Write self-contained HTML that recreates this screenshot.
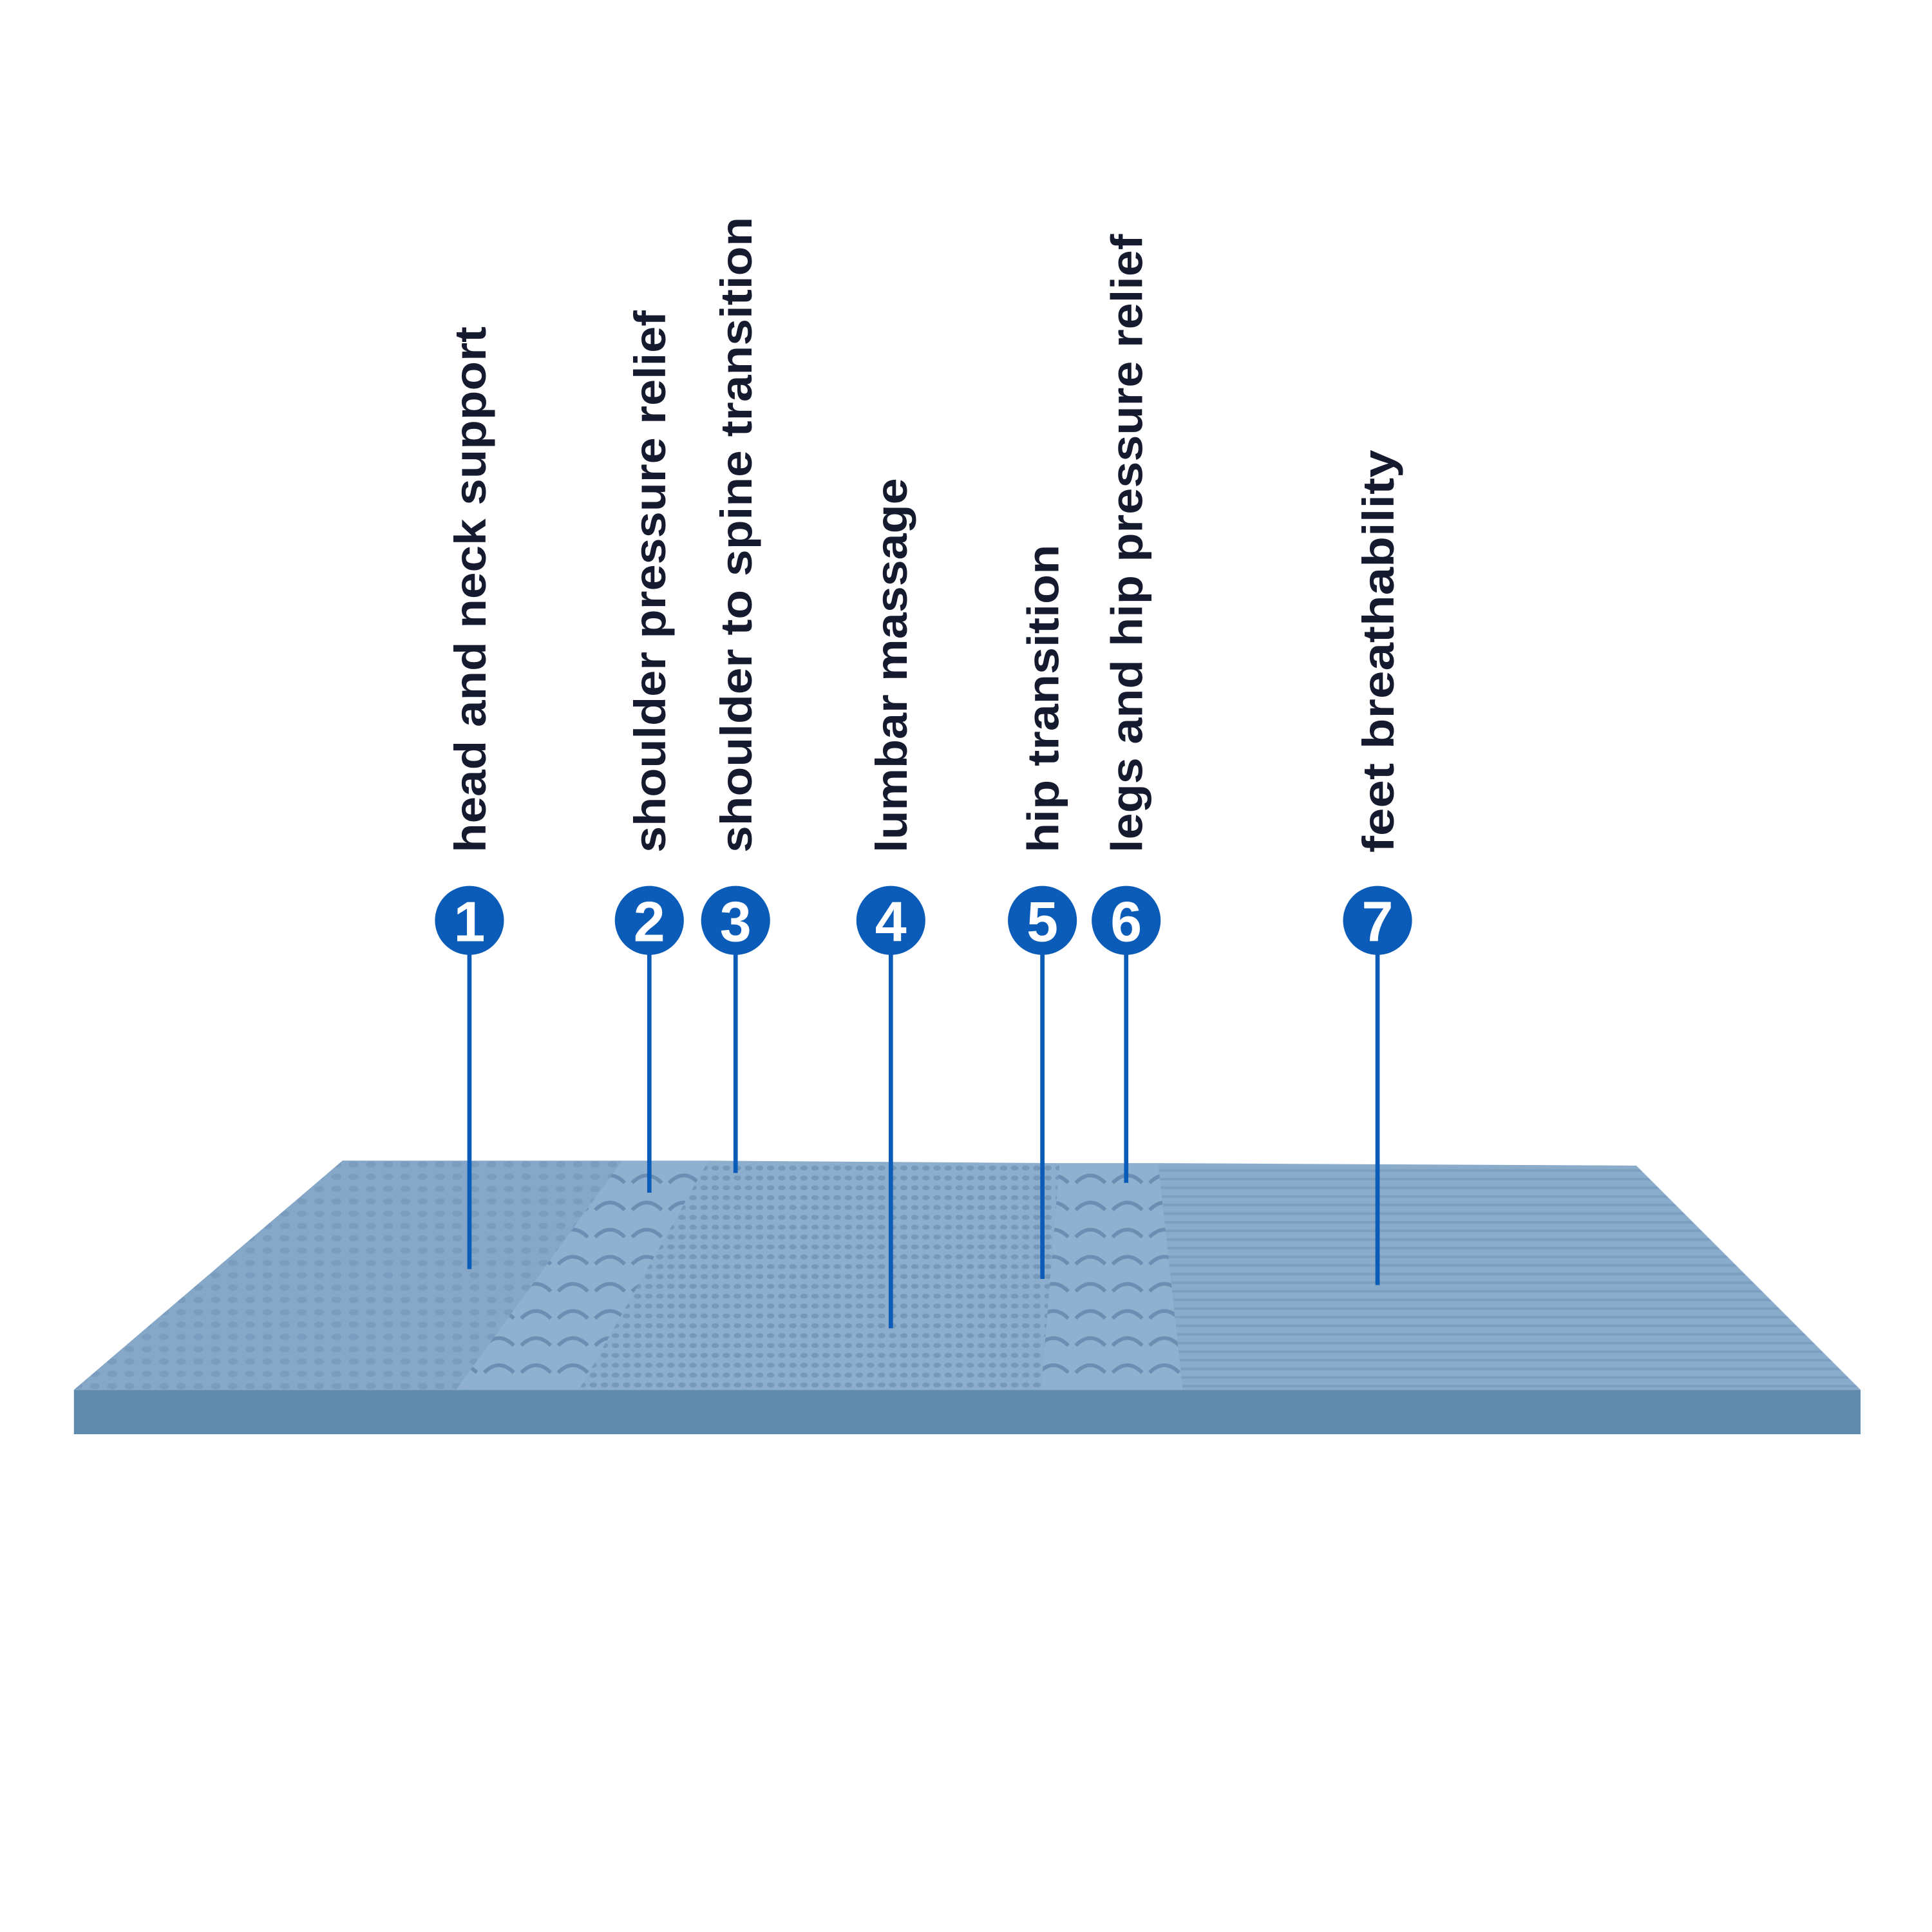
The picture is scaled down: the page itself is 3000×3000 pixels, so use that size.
<!DOCTYPE html>
<html><head><meta charset="utf-8"><style>html,body{margin:0;padding:0;background:#fff}svg{display:block}</style></head>
<body>
<svg width="3000" height="3000" viewBox="0 0 1568 1568" xmlns="http://www.w3.org/2000/svg">
<defs>
<pattern id="dots" width="14" height="10" patternUnits="userSpaceOnUse"><rect width="14" height="10" fill="#86a8c8"/><ellipse cx="7" cy="5" rx="4" ry="2.5" fill="#7a9dbf"/></pattern>
<pattern id="dense" width="9" height="8" patternUnits="userSpaceOnUse"><rect width="9" height="8" fill="#8cadcc"/><ellipse cx="4.5" cy="4" rx="3" ry="2" fill="#7598bb"/></pattern>
<pattern id="lines" width="1568" height="7" patternUnits="userSpaceOnUse"><rect width="1568" height="7" fill="#8aabca"/><rect y="4" width="1568" height="2" fill="#7c9fc0"/></pattern>
<pattern id="big" width="30" height="22" patternUnits="userSpaceOnUse"><rect width="30" height="22" fill="#8fb0cf"/><path d="M3 14 Q15 2 27 14" stroke="#6a8fb3" stroke-width="3" fill="none"/></pattern>
</defs>
<rect x="60" y="1128" width="1450" height="36" fill="#5f8aab"/>
<polygon points="278,942 1328,946 1510,1128 60,1128" fill="#86a8c8"/>
<polygon points="278,942 505,942 380,1128 60,1128" fill="url(#dots)"/>
<polygon points="505,942 575,942 470,1128 370,1128" fill="url(#big)"/>
<polygon points="575,942 860,944 845,1128 470,1128" fill="url(#dense)"/>
<polygon points="860,944 940,944 960,1128 845,1128" fill="url(#big)"/>
<polygon points="940,944 1328,946 1510,1128 960,1128" fill="url(#lines)"/>
<g fill="#0b5cb8" stroke="#0b5cb8">
<line x1="381" y1="747" x2="381" y2="1030" stroke-width="3.5"/>
<line x1="527" y1="747" x2="527" y2="968" stroke-width="3.5"/>
<line x1="597" y1="747" x2="597" y2="952" stroke-width="3.5"/>
<line x1="723" y1="747" x2="723" y2="1078" stroke-width="3.5"/>
<line x1="846" y1="747" x2="846" y2="1038" stroke-width="3.5"/>
<line x1="914" y1="747" x2="914" y2="960" stroke-width="3.5"/>
<line x1="1118" y1="747" x2="1118" y2="1043" stroke-width="3.5"/>
<circle cx="381" cy="747" r="28" stroke="none"/>
<circle cx="527" cy="747" r="28" stroke="none"/>
<circle cx="597" cy="747" r="28" stroke="none"/>
<circle cx="723" cy="747" r="28" stroke="none"/>
<circle cx="846" cy="747" r="28" stroke="none"/>
<circle cx="914" cy="747" r="28" stroke="none"/>
<circle cx="1118" cy="747" r="28" stroke="none"/>
</g>
<g fill="#fff" font-family="Liberation Sans, sans-serif" font-weight="bold" font-size="46" text-anchor="middle">
<text x="381" y="764">1</text><text x="527" y="764">2</text><text x="597" y="764">3</text><text x="723" y="764">4</text><text x="846" y="764">5</text><text x="914" y="764">6</text><text x="1118" y="764">7</text>
</g>
<g fill="#161a2e" font-family="Liberation Sans, sans-serif" font-weight="bold" font-size="36" lengthAdjust="spacingAndGlyphs">
<text transform="translate(394,692) rotate(-90)" textLength="427" lengthAdjust="spacingAndGlyphs">head and neck support</text>
<text transform="translate(540,692) rotate(-90)" textLength="440" lengthAdjust="spacingAndGlyphs">shoulder pressure relief</text>
<text transform="translate(610,692) rotate(-90)" textLength="516" lengthAdjust="spacingAndGlyphs">shoulder to spine transition</text>
<text transform="translate(736,692) rotate(-90)" textLength="304" lengthAdjust="spacingAndGlyphs">lumbar massage</text>
<text transform="translate(859,692) rotate(-90)" textLength="250" lengthAdjust="spacingAndGlyphs">hip transition</text>
<text transform="translate(927,692) rotate(-90)" textLength="502" lengthAdjust="spacingAndGlyphs">legs and hip pressure relief</text>
<text transform="translate(1131,692) rotate(-90)" textLength="327" lengthAdjust="spacingAndGlyphs">feet breathability</text>
</g>
</svg>
</body></html>
